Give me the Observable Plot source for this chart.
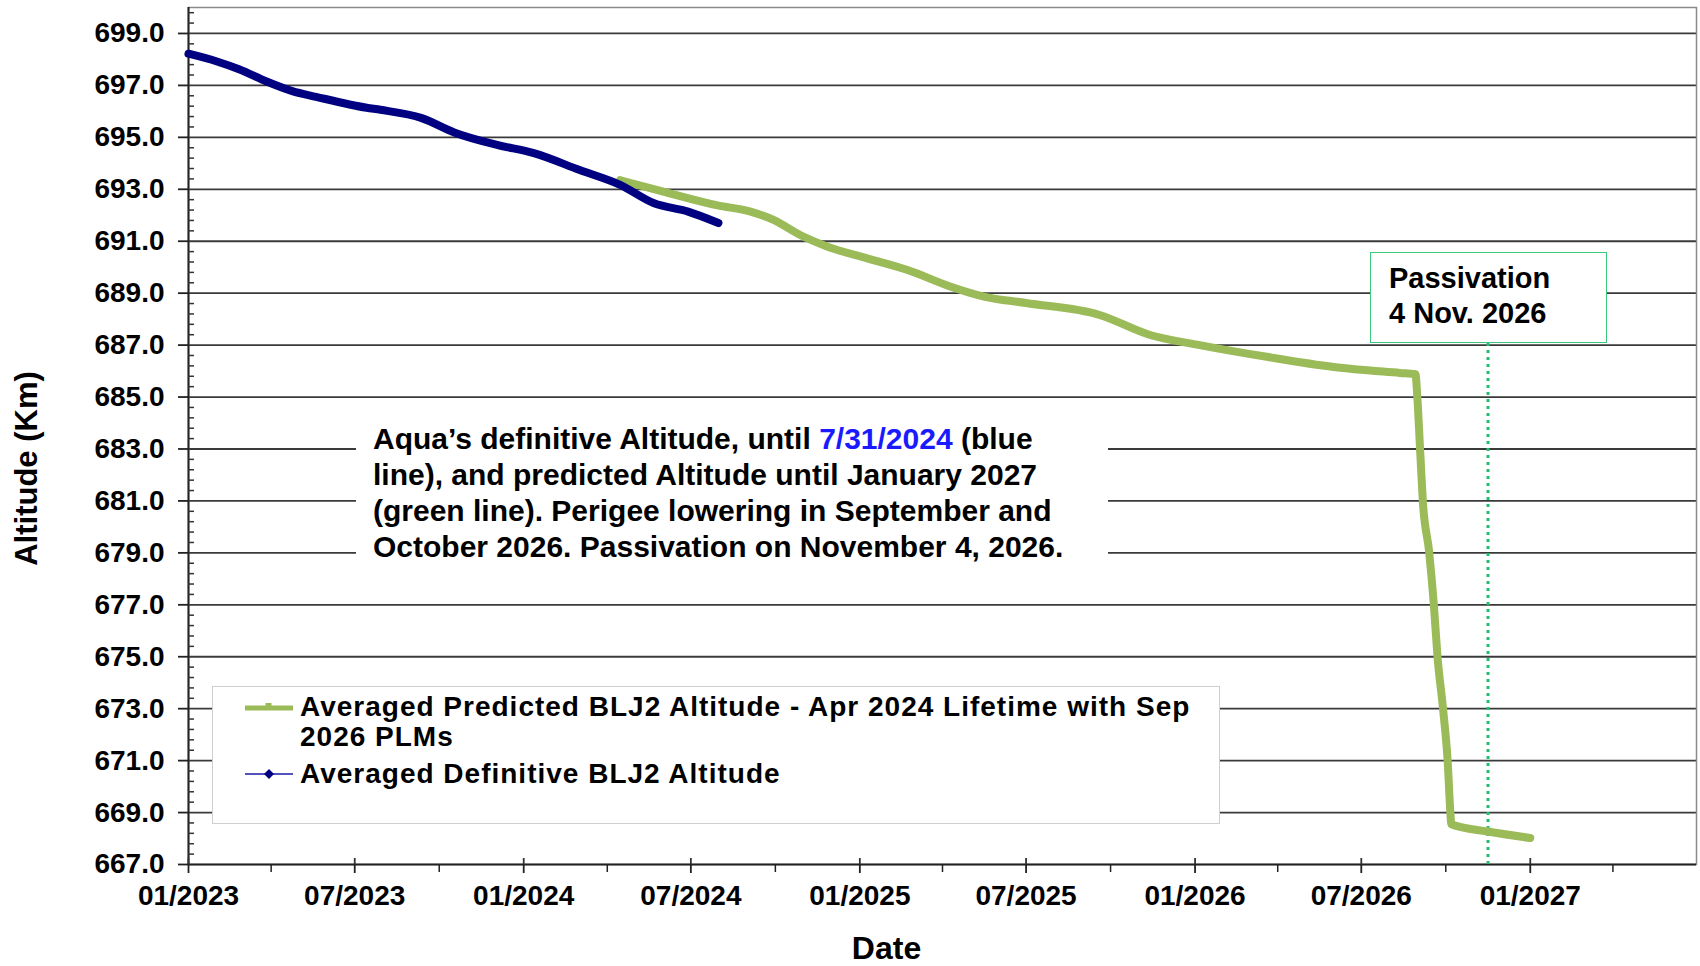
<!DOCTYPE html>
<html><head><meta charset="utf-8">
<script src="https://cdn.jsdelivr.net/npm/d3@7"></script>
<script src="https://cdn.jsdelivr.net/npm/@observablehq/plot@0.6"></script>
<style>
body{margin:0;background:#fff;}
#wrap{position:relative;width:1700px;height:966px;font-family:"Liberation Sans",Arial,sans-serif;font-weight:bold;color:#000;overflow:hidden;}
.box{position:absolute;background:#fff;box-sizing:border-box;}
#note{left:356px;top:412px;width:752px;height:164px;padding:9px 0 0 17px;font-size:30px;line-height:36px;white-space:nowrap;}
#note .blue{color:#1a1aff;}
#legend{left:212px;top:686px;width:1008px;height:138px;border:1.5px solid #cfcfcf;}
#legend .t{position:absolute;left:87px;font-size:28px;letter-spacing:1px;line-height:30px;white-space:nowrap;}
#legend svg{position:absolute;left:30px;}
#pass{left:1370px;top:252px;width:237px;height:91px;border:1.5px solid #3cc77a;padding:8px 0 0 18px;font-size:29px;line-height:35px;white-space:nowrap;}
</style></head><body><div id="wrap"></div>
<script>
// Averaged Definitive BLJ2 Altitude (blue)
const definitiveDates = ["2023-01-01","2023-02-01","2023-02-25","2023-03-27","2023-04-24","2023-05-20","2023-07-14","2023-07-29","2023-09-12","2023-10-18","2023-12-03","2024-01-12","2024-03-02","2024-04-15","2024-05-22","2024-06-28","2024-07-31"];
const definitiveAlt   = [698.22,697.92,697.62,697.15,696.78,696.56,696.14,696.06,695.74,695.18,694.71,694.39,693.74,693.17,692.46,692.14,691.70];
// Averaged Predicted BLJ2 Altitude - Apr 2024 Lifetime with Sep 2026 PLMs (green)
const predictedDates = ["2024-04-15","2024-06-01","2024-07-30","2024-09-04","2024-09-29","2024-10-28","2024-11-27","2025-01-09","2025-02-22","2025-04-10","2025-05-16","2025-07-01","2025-09-19","2025-11-13","2026-01-06","2026-03-20","2026-06-01","2026-08-12","2026-08-29","2026-08-31","2026-09-03","2026-09-06","2026-09-13","2026-09-18","2026-09-22","2026-09-28","2026-10-03","2026-10-06","2026-10-07","2026-11-16","2027-01-01"];
const predictedAlt   = [693.35,692.91,692.38,692.14,691.82,691.24,690.79,690.34,689.89,689.25,688.87,688.62,688.16,687.39,687.00,686.55,686.16,685.93,685.88,685.00,683.00,681.00,679.00,677.00,675.00,673.00,671.00,669.00,668.55,668.27,668.02];
// Passivation marker
const passivation = [{date: "2026-11-16", top: 687.3}];
// Axes
const xDomain = ["2023-01-01","2027-07-01"];
const yDomain = [667, 700];
const xMajorTicks = ["2023-01-01","2023-07-01","2024-01-01","2024-07-01","2025-01-01","2025-07-01","2026-01-01","2026-07-01","2027-01-01"];
const xMinorTicks = ["2023-04-01","2023-10-01","2024-04-01","2024-10-01","2025-04-01","2025-10-01","2026-04-01","2026-10-01","2027-04-01"];
const yMajorTicks = [667,669,671,673,675,677,679,681,683,685,687,689,691,693,695,697,699];

const D = s => new Date(s);
const blue = definitiveDates.map((d,i) => ({date: D(d), alt: definitiveAlt[i]}));
const green = predictedDates.map((d,i) => ({date: D(d), alt: predictedAlt[i]}));
const pass = passivation.map(p => ({date: D(p.date), top: p.top}));
const xMaj = xMajorTicks.map(D), xMin = xMinorTicks.map(D);
const yMinor = d3.range(yDomain[0], yDomain[1] + 0.001, 0.4).map(v => +v.toFixed(1)).filter(v => !yMajorTicks.includes(v) && v < yDomain[1]);

const W = 1700, H = 966, mL = 188, mR = 4, mT = 7, mB = 102;
const innerW = W - mL - mR, innerH = H - mT - mB;

const chart = Plot.plot({
  width: W, height: H,
  marginLeft: mL, marginRight: mR, marginTop: mT, marginBottom: mB,
  style: {fontFamily: '"Liberation Sans", Arial, sans-serif', fontWeight: "bold", background: "#fff", color: "#000", overflow: "visible"},
  x: {type: "utc", domain: xDomain.map(D)},
  y: {domain: yDomain},
  marks: [
    Plot.ruleY(yMajorTicks.filter(v => v > yDomain[0]), {stroke: "#3a3a3a", strokeWidth: 1.8}),
    Plot.frame({stroke: "#8a8a8a", strokeWidth: 1.5}),
    Plot.ruleX([D(xDomain[0])], {stroke: "#222", strokeWidth: 2}),
    Plot.ruleY([yDomain[0]], {stroke: "#222", strokeWidth: 2}),
    Plot.tickY(yMinor, {y: d => d, stroke: "#333", strokeWidth: 1.5, insetRight: innerW - 6}),
    Plot.tickX(xMaj, {x: d => d, stroke: "#333", strokeWidth: 1.8, insetTop: innerH - 6}),
    Plot.axisY({ticks: yMajorTicks, tickSize: 10, tickPadding: 14, tickFormat: d => d.toFixed(1), fontSize: 28, stroke: "#222", strokeWidth: 1.8}),
    Plot.axisX({ticks: xMaj, tickSize: 9, tickPadding: 12, tickFormat: d3.utcFormat("%m/%Y"), fontSize: 28, stroke: "#222", strokeWidth: 1.8, label: null}),
    Plot.axisX({ticks: xMin, tickSize: 8, tickFormat: () => "", stroke: "#222", strokeWidth: 1.5, label: null}),
    Plot.ruleX(pass, {x: "date", y1: yDomain[0], y2: "top", stroke: "#1fbf6b", strokeWidth: 3, strokeDasharray: "3 4"}),
    Plot.line(green, {x: "date", y: "alt", stroke: "#9bbb59", strokeWidth: 8, curve: "monotone-x"}),
    Plot.line(blue, {x: "date", y: "alt", stroke: "#000080", strokeWidth: 8, curve: "monotone-x"}),
    Plot.text(["Date"], {frameAnchor: "bottom", textAnchor: "middle", lineAnchor: "middle", dx: 886 - (mL + innerW / 2), dy: 84, fontSize: 32, fontWeight: "bold"}),
    Plot.text(["Altitude (Km)"], {frameAnchor: "left", textAnchor: "middle", rotate: -90, lineAnchor: "middle", dx: 27 - mL, dy: 468 - (mT + innerH / 2), fontSize: 31, fontWeight: "bold"})
  ]
});
const wrap = document.getElementById("wrap");
wrap.appendChild(chart);

const note = document.createElement("div");
note.className = "box"; note.id = "note";
note.innerHTML = 'Aqua\u2019s definitive Altitude, until <span class="blue">7/31/2024</span> (blue<br>line), and predicted Altitude until January 2027<br>(green line). Perigee lowering in September and<br>October 2026. Passivation on November 4, 2026.';
wrap.appendChild(note);

const legend = document.createElement("div");
legend.className = "box"; legend.id = "legend";
legend.innerHTML =
  '<svg width="52" height="14" style="top:13px"><line x1="2" y1="8" x2="50" y2="8" stroke="#9bbb59" stroke-width="5"/><rect x="22.5" y="3" width="6" height="6" fill="#9bbb59"/></svg>' +
  '<div class="t" style="top:5px">Averaged Predicted BLJ2 Altitude - Apr 2024 Lifetime with Sep</div>' +
  '<div class="t" style="top:35px">2026 PLMs</div>' +
  '<svg width="52" height="14" style="top:80px"><line x1="2" y1="7" x2="50" y2="7" stroke="#1a1aa8" stroke-width="1.5"/><path d="M26 2 L31 7 L26 12 L21 7 Z" fill="#000080"/></svg>' +
  '<div class="t" style="top:72px">Averaged Definitive BLJ2 Altitude</div>';
wrap.appendChild(legend);

const pbox = document.createElement("div");
pbox.className = "box"; pbox.id = "pass";
pbox.innerHTML = 'Passivation<br>4 Nov. 2026';
wrap.appendChild(pbox);
</script>
</body></html>
